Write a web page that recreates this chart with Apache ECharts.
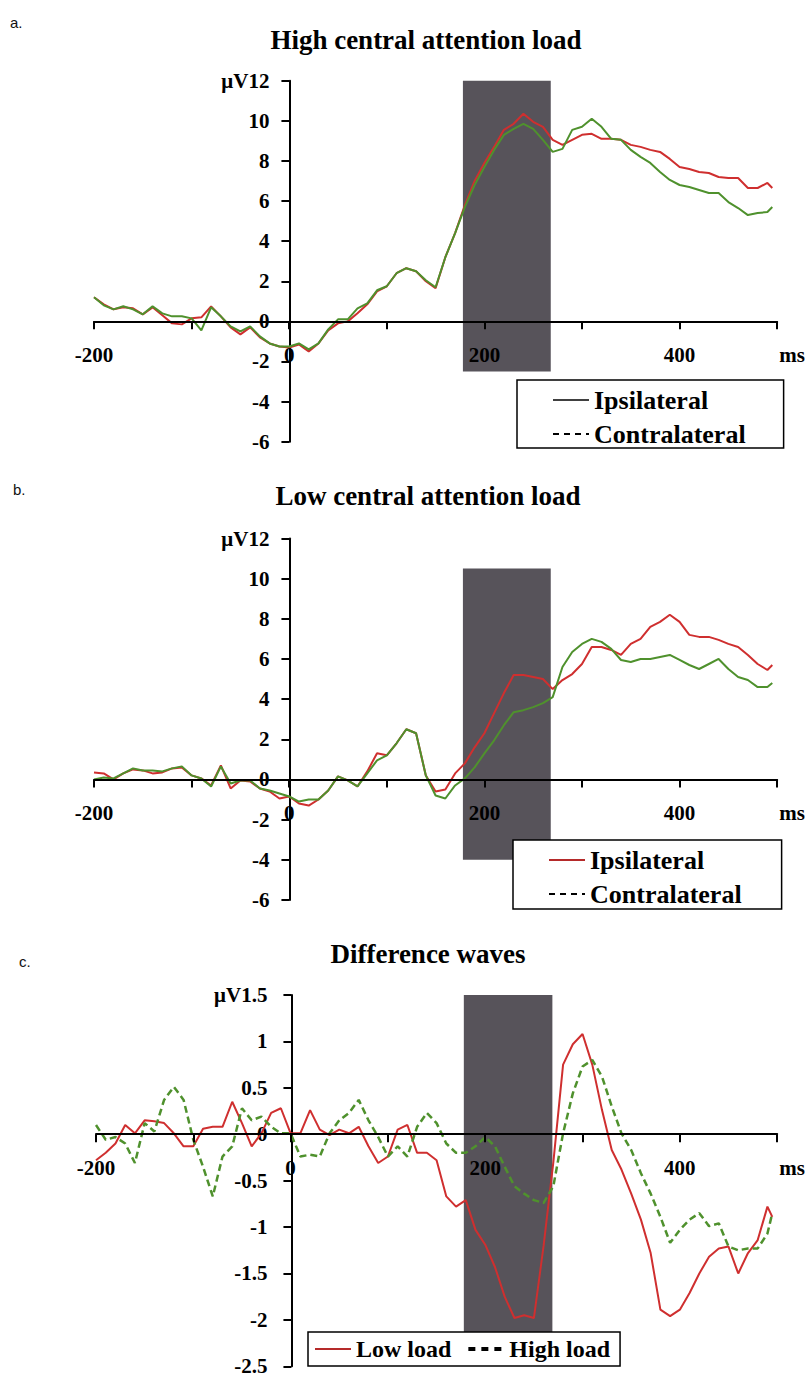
<!DOCTYPE html>
<html>
<head>
<meta charset="utf-8">
<script src="https://cdn.jsdelivr.net/npm/echarts@6/dist/echarts.min.js"></script>
<style>html,body{margin:0;padding:0;background:#fff}#c{width:808px;height:1378px}</style>
</head>
<body>
<div id="c"></div>
<script>
// ---- data (ms, µV) ----
var times = [-200,-190,-180,-170,-160,-150,-140,-130,-120,-110,-100,-90,-80,-70,-60,-50,-40,-30,-20,-10,
  0,10,20,30,40,50,60,70,80,90,100,110,120,130,140,150,160,170,180,190,
  200,210,220,230,240,250,260,270,280,290,300,310,320,330,340,350,360,370,380,390,
  400,410,420,430,440,450,460,470,480,490,495];

var highIpsi = [1.2,0.85,0.6,0.7,0.65,0.35,0.7,0.3,-0.1,-0.15,0.15,0.2,0.75,0.25,-0.3,-0.65,-0.3,-0.8,-1.1,-1.25,
  -1.3,-1.15,-1.5,-1.1,-0.45,-0.1,0,0.4,0.85,1.5,1.75,2.4,2.65,2.5,2.0,1.65,3.2,4.4,5.8,7.0,
  7.9,8.7,9.55,9.85,10.35,9.95,9.7,9.05,8.8,9.05,9.3,9.35,9.1,9.1,9.05,8.8,8.7,8.55,8.45,8.1,
  7.7,7.6,7.45,7.4,7.2,7.15,7.15,6.65,6.65,6.9,6.65];
var highContra = [1.2,0.8,0.6,0.75,0.6,0.35,0.75,0.4,0.25,0.25,0.15,-0.45,0.7,0.25,-0.25,-0.5,-0.25,-0.75,-1.1,-1.25,
  -1.25,-1.1,-1.4,-1.1,-0.4,0.1,0.1,0.65,0.9,1.55,1.75,2.4,2.65,2.5,2.05,1.7,3.2,4.4,5.7,6.8,
  7.7,8.55,9.3,9.6,9.85,9.6,9.05,8.45,8.6,9.55,9.7,10.1,9.7,9.1,9.05,8.55,8.2,7.9,7.45,7.05,
  6.8,6.7,6.55,6.4,6.4,5.95,5.65,5.3,5.4,5.45,5.7];

var lowIpsi = [0.35,0.3,0,0.3,0.5,0.45,0.3,0.35,0.55,0.6,0.2,0.05,-0.3,0.7,-0.45,-0.05,-0.1,-0.45,-0.6,-0.95,
  -0.85,-1.2,-1.3,-1.0,-0.55,0.15,-0.05,-0.35,0.4,1.3,1.2,1.8,2.5,2.3,0.2,-0.6,-0.5,0.3,0.8,1.6,
  2.3,3.3,4.3,5.2,5.2,5.1,5.0,4.5,4.95,5.25,5.75,6.6,6.6,6.45,6.2,6.75,7.0,7.6,7.85,8.2,
  7.85,7.2,7.1,7.1,6.95,6.75,6.6,6.2,5.75,5.45,5.7];
var lowContra = [0,0.1,0.05,0.3,0.55,0.45,0.45,0.4,0.55,0.65,0.2,0.05,-0.35,0.65,-0.2,-0.05,-0.05,-0.45,-0.55,-0.7,
  -0.85,-1.1,-1.0,-1.0,-0.55,0.15,-0.05,-0.35,0.3,0.95,1.2,1.8,2.5,2.3,0.2,-0.8,-0.95,-0.3,0.05,0.6,
  1.3,1.95,2.7,3.35,3.45,3.6,3.8,4.1,5.6,6.35,6.75,7.0,6.85,6.5,5.95,5.85,6.0,6.0,6.1,6.2,
  5.95,5.7,5.5,5.75,6.0,5.5,5.1,4.95,4.6,4.6,4.8];

var diffLow = [-0.28,-0.2,-0.1,0.1,0.01,0.15,0.14,0.12,0.01,-0.13,-0.13,0.06,0.08,0.08,0.35,0.12,-0.13,0.01,0.23,0.28,
  0.01,0.01,0.26,0.05,-0.01,0.05,0.01,0.08,-0.13,-0.31,-0.24,0.05,0.1,-0.2,-0.2,-0.28,-0.67,-0.78,-0.71,-1.03,
  -1.19,-1.43,-1.75,-1.98,-1.95,-1.98,-1.2,-0.3,0.75,0.97,1.08,0.75,0.26,-0.17,-0.38,-0.64,-0.92,-1.28,-1.89,-1.96,
  -1.89,-1.71,-1.5,-1.32,-1.23,-1.21,-1.5,-1.28,-1.14,-0.78,-0.89];
var diffHigh = [0.1,-0.06,-0.03,-0.1,-0.31,0.12,0.03,0.37,0.51,0.37,-0.06,-0.35,-0.67,-0.24,-0.13,0.28,0.15,0.19,0.08,0.01,
  0.01,-0.24,-0.22,-0.24,0.01,0.15,0.23,0.37,0.15,-0.03,-0.24,-0.13,-0.24,0.08,0.23,0.12,-0.1,-0.2,-0.2,-0.13,
  -0.03,-0.13,-0.35,-0.56,-0.64,-0.71,-0.74,-0.56,0.01,0.44,0.73,0.8,0.62,0.3,0.01,-0.17,-0.42,-0.64,-0.89,-1.17,
  -1.03,-0.92,-0.85,-0.99,-0.96,-1.21,-1.25,-1.23,-1.23,-1.07,-0.85];

// shaded analysis window [t0, t1, vLow, vHigh] per panel
var shadeA = [178, 268, -2.5, 12];
var shadeB = [178, 268, -4, 10.5];
var shadeC = [178, 269, -2.2, 1.55];

// axis ranges [min, max, interval]
var xRange = [-200, 500, 100];
var yRangeAB = [-6, 12, 2];
var yRangeC = [-2.5, 1.5, 0.5];

var titles = ['High central attention load', 'Low central attention load', 'Difference waves'];
var letters = ['a.', 'b.', 'c.'];

function pairs(v) { return times.map(function (t, i) { return [t, v[i]]; }); }

var RED = '#cf2f2f', GREEN = '#4f912d', SHADE = '#57535a';
var SERIF = 'Liberation Serif';
var lblStyle = { fontFamily: SERIF, fontWeight: 'bold', fontSize: 21, color: '#000' };
var TICK = '#000';

var grids = [
  { left: 94, top: 80.7, width: 684, height: 361 },
  { left: 94, top: 538.5, width: 684, height: 361.4 },
  { left: 96, top: 995, width: 684, height: 371.3 }
];

// x axis crosses y at 0, y axis crosses x at 0: shift each axis from the grid edge to the zero line
function xAxis(gi, yr) {
  var off = -(0 - yr[0]) / (yr[1] - yr[0]) * grids[gi].height;
  return {
    type: 'value', gridIndex: gi, min: xRange[0], max: xRange[1], interval: xRange[2],
    position: 'bottom', offset: off, z: 5,
    splitLine: { show: false },
    axisLine: { show: true, onZero: false, lineStyle: { color: '#000', width: 2 } },
    axisTick: { show: true, length: 8, lineStyle: { color: TICK, width: 2 } },
    axisLabel: Object.assign({}, lblStyle, {
      margin: 23, hideOverlap: false,
      formatter: function (v) { return v === 500 ? '{ms|ms}' : (v % 200 === 0 ? String(v) : ''); },
      rich: { ms: { fontFamily: SERIF, fontWeight: 'bold', fontSize: 21, color: '#000', padding: [0, 0, 0, 30] } }
    })
  };
}
function yAxis(gi, r, top, margin) {
  var off = -(0 - xRange[0]) / (xRange[1] - xRange[0]) * grids[gi].width;
  return {
    type: 'value', gridIndex: gi, min: r[0], max: r[1], interval: r[2],
    position: 'left', offset: off,
    splitLine: { show: false },
    axisLine: { show: true, onZero: false, lineStyle: { color: '#000', width: 2 } },
    axisTick: { show: true, length: 8, lineStyle: { color: TICK, width: 2 } },
    axisLabel: Object.assign({}, lblStyle, {
      margin: margin, hideOverlap: false,
      formatter: function (v) { return v === r[1] ? top + v : String(v); }
    })
  };
}
function area(s) {
  return {
    silent: true, itemStyle: { color: SHADE },
    data: [[{ xAxis: s[0], yAxis: s[2] }, { xAxis: s[1], yAxis: s[3] }]]
  };
}
function line(name, gi, vals, color, dashed, ma) {
  var o = {
    name: name, type: 'line', xAxisIndex: gi, yAxisIndex: gi, data: pairs(vals),
    symbol: 'none', smooth: false, animation: false, z: 3,
    lineStyle: { color: color, width: dashed ? 2.5 : 2, type: dashed ? [7, 4] : 'solid' },
    itemStyle: { color: color }
  };
  if (ma) o.markArea = ma;
  return o;
}
var legText = { fontFamily: SERIF, fontWeight: 'bold', fontSize: 26, color: '#000' };
var hide = { color: 'rgba(0,0,0,0)', borderWidth: 0 };

var chart = echarts.init(document.getElementById('c'), null, { renderer: 'svg', width: 808, height: 1378 });
chart.setOption({
  animation: false,
  backgroundColor: '#fff',
  grid: grids,
  xAxis: [xAxis(0, yRangeAB), xAxis(1, yRangeAB), xAxis(2, yRangeC)],
  yAxis: [yAxis(0, yRangeAB, 'μV', 20), yAxis(1, yRangeAB, 'μV', 20), yAxis(2, yRangeC, 'μV', 24)],
  legend: [
    { orient: 'vertical', left: 517, top: 380, itemWidth: 36, itemHeight: 24, itemGap: 8, z: 10,
      padding: [7, 38, 1, 35], borderColor: '#000', borderWidth: 1.5, backgroundColor: '#fff',
      selectedMode: false, textStyle: legText,
      data: [
        { name: 'Ipsilateral', lineStyle: { color: '#000', width: 1.5, type: 'solid' }, itemStyle: hide },
        { name: 'Contralateral', lineStyle: { color: '#000', width: 2, type: [6, 5] }, itemStyle: hide }
      ] },
    { orient: 'vertical', left: 513, top: 840, itemWidth: 36, itemHeight: 24, itemGap: 8, z: 10,
      padding: [7, 40, 2, 35], borderColor: '#000', borderWidth: 1.5, backgroundColor: '#fff',
      selectedMode: false, textStyle: legText,
      data: [
        { name: 'Ipsilateral', lineStyle: { color: '#b52a2a', width: 2, type: 'solid' }, itemStyle: hide },
        { name: 'Contralateral', lineStyle: { color: '#000', width: 2, type: [6, 5] }, itemStyle: hide }
      ] },
    { orient: 'horizontal', left: 308, top: 1332, itemWidth: 36, itemHeight: 24, itemGap: 15, z: 10,
      padding: [5, 10, 5, 6], borderColor: '#000', borderWidth: 1.5, backgroundColor: '#fff',
      selectedMode: false, textStyle: Object.assign({}, legText, { fontSize: 24 }),
      data: [
        { name: 'Low load', lineStyle: { color: '#b52a2a', width: 2, type: 'solid' }, itemStyle: hide },
        { name: 'High load', lineStyle: { color: '#000', width: 4, type: [7, 6] }, itemStyle: hide }
      ] }
  ],
  graphic: [
    { type: 'text', x: 426, y: 40, style: { text: titles[0], font: 'bold 27px "Liberation Serif"', fill: '#000', align: 'center', verticalAlign: 'middle' } },
    { type: 'text', x: 428, y: 496, style: { text: titles[1], font: 'bold 27px "Liberation Serif"', fill: '#000', align: 'center', verticalAlign: 'middle' } },
    { type: 'text', x: 428, y: 954, style: { text: titles[2], font: 'bold 27px "Liberation Serif"', fill: '#000', align: 'center', verticalAlign: 'middle' } },
    { type: 'text', x: 10, y: 22, style: { text: letters[0], font: '15px "Liberation Sans"', fill: '#111', verticalAlign: 'middle' } },
    { type: 'text', x: 13, y: 489, style: { text: letters[1], font: '15px "Liberation Sans"', fill: '#111', verticalAlign: 'middle' } },
    { type: 'text', x: 19, y: 961, style: { text: letters[2], font: '15px "Liberation Sans"', fill: '#111', verticalAlign: 'middle' } }
  ],
  series: [
    line('Ipsilateral', 0, highIpsi, RED, false, area(shadeA)),
    line('Contralateral', 0, highContra, GREEN, false),
    line('Ipsilateral', 1, lowIpsi, RED, false, area(shadeB)),
    line('Contralateral', 1, lowContra, GREEN, false),
    line('Low load', 2, diffLow, RED, false, area(shadeC)),
    line('High load', 2, diffHigh, GREEN, true)
  ]
});
</script>
</body>
</html>
